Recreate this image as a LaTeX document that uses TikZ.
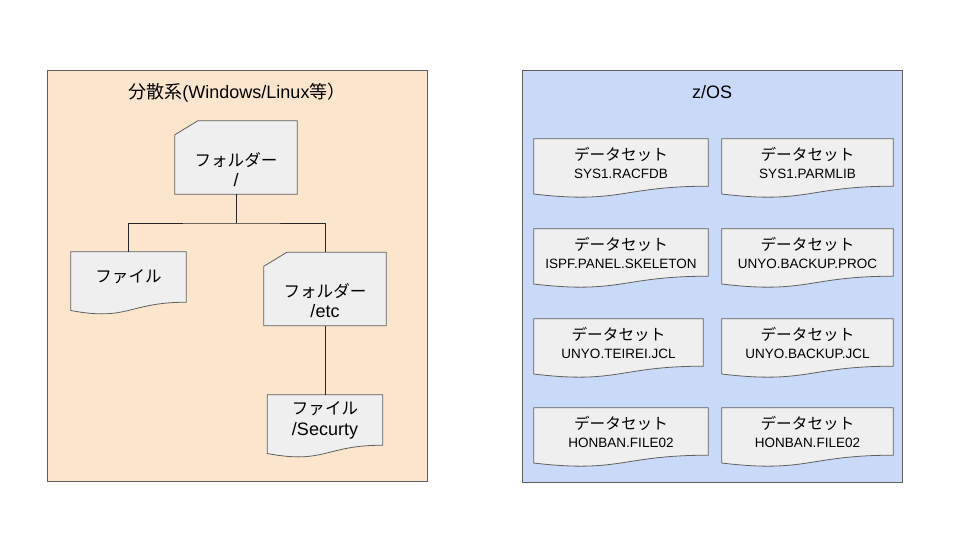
\documentclass[tikz,border=0pt]{standalone}
\usepackage{fontspec}
\setmainfont{Liberation Sans}
\newfontfamily\jp[Scale=0.92]{Noto Sans CJK JP}
\newfontfamily\jpbig{Noto Sans CJK JP}
\usetikzlibrary{calc,backgrounds}
\definecolor{dsPeach}{HTML}{FCE5CD}
\definecolor{dsBlue}{HTML}{C9DAF8}
\definecolor{dsGray}{HTML}{EFEFEF}
\definecolor{dsLine}{HTML}{5F5F5F}
\newcommand{\dsText}[1]{{\jp データセット}\\{\fontsize{13.5}{15}\selectfont #1}}
\tikzset{
  panelBox/.style={draw=dsLine, line width=0.8pt},
  shapeLine/.style={draw=dsLine, fill=dsGray, line width=0.8pt},
  linkLine/.style={draw=black!85, line width=0.8pt},
  titleLabel/.style={font=\fontsize{18}{20}\selectfont, inner sep=0pt},
  fileBox/.style={align=center, inner sep=0pt, minimum width=115pt, minimum height=50pt, font=\fontsize{18}{21}\selectfont},
  folderBox/.style={align=center, inner sep=0pt, minimum width=122pt, minimum height=73pt, font=\fontsize{18}{20}\selectfont, text height=60pt, text depth=3pt},
  dataBox/.style={align=center, inner sep=0pt, minimum width=#1, minimum height=47pt, font=\fontsize{17}{18}\selectfont}
}

\begin{document}
\begin{tikzpicture}[x=1pt,y=-1pt]
  \useasboundingbox (0,0) rectangle (960,540);
  \begin{scope}[on background layer]
    \fill[white] (0,0) rectangle (960,540);
    \draw[panelBox, fill=dsPeach] (47,70) rectangle (427,481);
    \draw[panelBox, fill=dsBlue] (522,70) rectangle (902,482);
  \end{scope}
  \node[titleLabel] (distTitle) at (237,93) {{\jpbig 分散系}(Windows/Linux{\jpbig 等）}};
  \node[titleLabel] (zosTitle) at (712,92) {z/OS};

  % tree on the left
  \node[folderBox] (root) at (236,157.5) {{\jp フォルダー}\\/};
  \node[fileBox] (file1) at (128.5,277) {\jp ファイル};
  \node[folderBox] (etc) at (325,289) {{\jp フォルダー}\\/etc};
  \node[fileBox] (file2) at (325,420) {{\jp ファイル}\\/Securty};
  \coordinate (split) at (236,223);
  \draw[linkLine] (root.south) -- (split);
  \draw[linkLine] (file1.north) |- (split) -| (etc.north);
  \draw[linkLine] (etc.south) -- (file2.north);

  % data sets on the right
  \foreach \nm/\x/\y/\w/\lbl in {ds1/621/162.5/174pt/SYS1.RACFDB, ds2/807.5/162.5/171pt/SYS1.PARMLIB,
    ds3/621/252.5/174pt/ISPF.PANEL.SKELETON, ds4/807.5/252.5/171pt/UNYO.BACKUP.PROC,
    ds5/618.5/342.5/169pt/UNYO.TEIREI.JCL, ds6/807.5/342.5/171pt/UNYO.BACKUP.JCL,
    ds7/621/431.5/174pt/HONBAN.FILE02, ds8/807.5/431.5/171pt/HONBAN.FILE02}
    \node[dataBox=\w] (\nm) at (\x,\y) {\dsText{\lbl}};

  \begin{scope}[on background layer]
    \foreach \n in {root,etc}
      \draw[shapeLine] ([yshift=-14pt]\n.north west) -- ([xshift=23pt]\n.north west)
        -- (\n.north east) -- (\n.south east) -- (\n.south west) -- cycle;
    \foreach \n in {file1,file2,ds1,ds2,ds3,ds4,ds5,ds6,ds7,ds8}
      \draw[shapeLine] (\n.north west) -- (\n.north east) -- (\n.south east)
        .. controls (\n.south) and ($(\n.north)!1.381!(\n.south)$)
        .. ($(\n.north west)!1.165!(\n.south west)$) -- cycle;
  \end{scope}
\end{tikzpicture}
\end{document}
